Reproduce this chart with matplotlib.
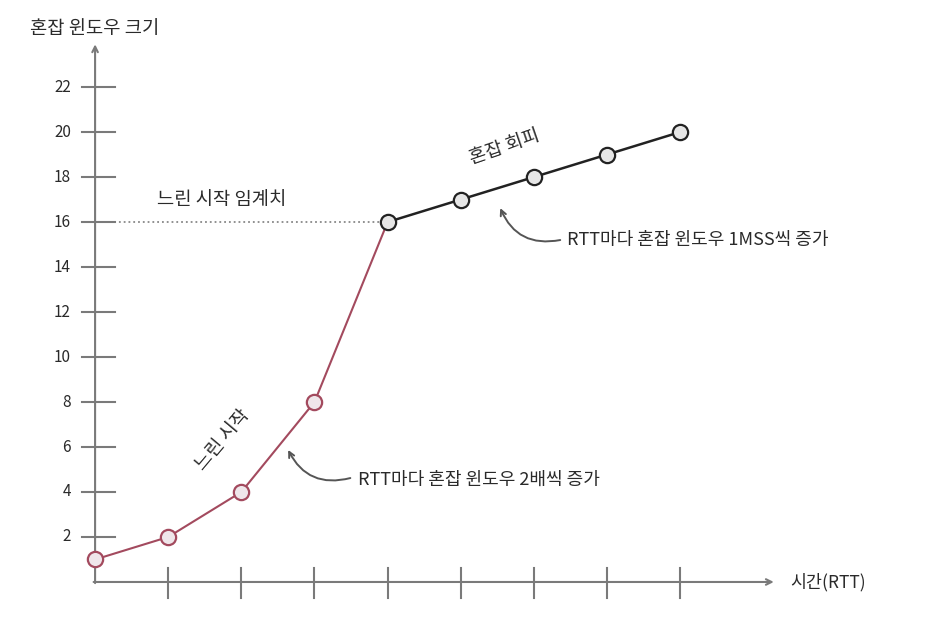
import matplotlib
matplotlib.use("agg")
import matplotlib.pyplot as plt

plt.rcParams["font.family"] = ["Noto Sans CJK KR", "DejaVu Sans"]

# congestion window per RTT (slow start then congestion avoidance)
RTT = [0, 1, 2, 3, 4, 5, 6, 7, 8]
CWND = [1, 2, 4, 8, 16, 17, 18, 19, 20]
SSTHRESH = 16
SLOW_END = 4  # index of the point where slow start stops
Y_TICKS = [2, 4, 6, 8, 10, 12, 14, 16, 18, 20, 22]
X_TICKS = [1, 2, 3, 4, 5, 6, 7, 8]

AXIS = "#7a7a7a"
TEXT = "#2a2a2a"
RED = "#a34a5e"

fig = plt.figure(figsize=(9.42, 6.2), dpi=100)
ax = fig.add_axes([0, 0, 1, 1])
ax.set_xlim(-1.3, 11.58)
ax.set_ylim(-1.69, 25.87)
ax.axis("off")

# axes with arrows
ax.annotate("", xy=(0, 23.9), xytext=(0, -0.05),
            arrowprops=dict(arrowstyle="->", color=AXIS, lw=1.5, shrinkA=0, shrinkB=0))
ax.annotate("", xy=(9.28, 0), xytext=(-0.02, 0),
            arrowprops=dict(arrowstyle="->", color=AXIS, lw=1.5, shrinkA=0, shrinkB=0))
for v in Y_TICKS:
    ax.plot([-0.18, 0.27], [v, v], color=AXIS, lw=1.5)
    ax.text(-0.33, v, str(v), ha="right", va="center", fontsize=11, color=TEXT)
for t in X_TICKS:
    ax.plot([t, t], [0.62, -0.71], color=AXIS, lw=1.5)

ax.text(-0.89, 24.62, "혼잡 윈도우 크기", ha="left", va="center", fontsize=13.5, color=TEXT)
ax.text(9.5, 0, "시간(RTT)", ha="left", va="center", fontsize=12.5, color=TEXT)

# threshold line
ax.plot([0, RTT[SLOW_END]], [SSTHRESH, SSTHRESH], ls=":", color="#888888", lw=1.3, zorder=1)
ax.text(0.85, 16.98, "느린 시작 임계치", ha="left", va="center", fontsize=13.5, color=TEXT)

# slow start and congestion avoidance
ax.plot(RTT[:SLOW_END + 1], CWND[:SLOW_END + 1], color=RED, lw=1.5, zorder=2)
ax.plot(RTT[SLOW_END:], CWND[SLOW_END:], color="#222222", lw=1.8, zorder=2)
ax.plot(RTT[:SLOW_END], CWND[:SLOW_END], "o", ms=11, mfc="#efe6ea", mec=RED, mew=1.6, zorder=3)
ax.plot(RTT[SLOW_END:], CWND[SLOW_END:], "o", ms=11, mfc="#e6e6e6", mec="#222222", mew=1.6, zorder=3)

ax.text(5.6, 19.33, "혼잡 회피", ha="center", va="center", rotation=19, fontsize=13.5, color=TEXT)
ax.text(1.74, 6.31, "느린 시작", ha="center", va="center", rotation=50, fontsize=13.5, color=TEXT)

ax.text(6.45, 15.2, "RTT마다 혼잡 윈도우 1MSS씩 증가", ha="left", va="center", fontsize=13, color=TEXT)
ax.annotate("", xy=(5.54, 16.62), xytext=(6.36, 15.2),
            arrowprops=dict(arrowstyle="->", color="#555555", lw=1.4,
                            connectionstyle="arc3,rad=-0.4", shrinkA=0, shrinkB=0))
ax.text(3.6, 4.53, "RTT마다 혼잡 윈도우 2배씩 증가", ha="left", va="center", fontsize=13, color=TEXT)
ax.annotate("", xy=(2.64, 5.87), xytext=(3.49, 4.62),
            arrowprops=dict(arrowstyle="->", color="#555555", lw=1.4,
                            connectionstyle="arc3,rad=-0.4", shrinkA=0, shrinkB=0))

plt.savefig("out.png", dpi=100)
